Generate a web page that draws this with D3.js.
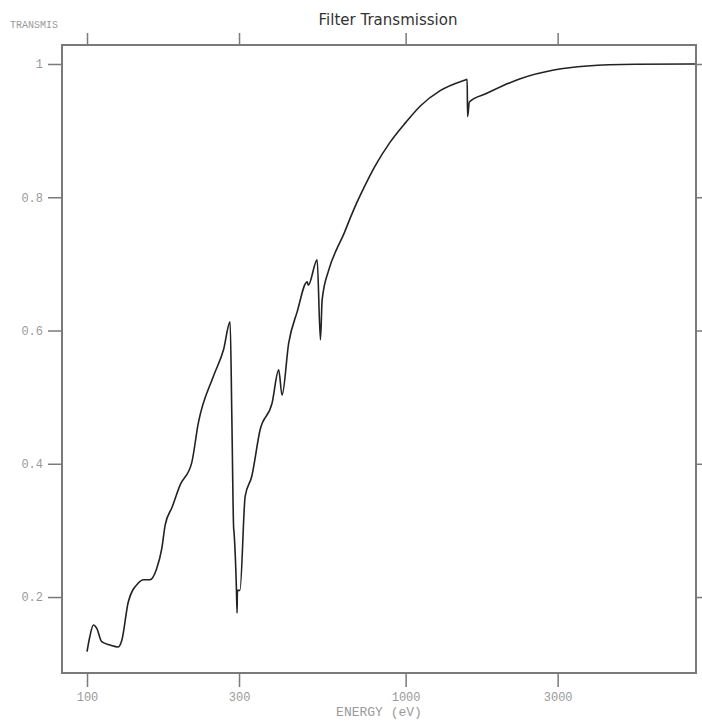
<!DOCTYPE html>
<html>
<head>
<meta charset="utf-8">
<script src="https://cdn.jsdelivr.net/npm/d3@7/dist/d3.min.js"></script>
<style>
html,body{margin:0;padding:0;background:#fff;}
svg{display:block;}
</style>
</head>
<body>
<svg id="chart" width="702" height="722"></svg>
<script>
// ---- data ----
const energy = [100, 102, 104.7, 107.3, 111.2, 118.1, 125.4, 128.6, 134.8, 144.9, 150.2, 157.6,
  165.5, 171.7, 175.9, 185, 195.9, 213, 223.5, 249.1, 268.2, 281.3, 284.8, 288.4, 289.5,
  294.5, 295.8, 296.5, 302, 313.6, 328.8, 349.4, 380.9, 399.6, 409.4, 429.5, 456.6, 490.8,
  495, 527.6, 540.3, 547, 573.9, 606.2, 640, 669, 700, 729, 800, 892, 1000, 1112, 1284, 1538, 1560,
  1565, 1585, 1799, 2290, 2917, 3714, 5285, 8100];
const transmission = [0.118, 0.14, 0.158, 0.153, 0.133, 0.128, 0.125, 0.135, 0.193, 0.221, 0.226, 0.226,
  0.243, 0.273, 0.308, 0.335, 0.368, 0.401, 0.461, 0.531, 0.571, 0.613, 0.471, 0.306, 0.296,
  0.21, 0.176, 0.21, 0.21, 0.351, 0.381, 0.451, 0.491, 0.541, 0.503, 0.581, 0.628, 0.673,
  0.668, 0.706, 0.586, 0.646, 0.691, 0.721, 0.745, 0.768, 0.79, 0.808, 0.846, 0.882, 0.912, 0.937, 0.96, 0.976, 0.977,
  0.921, 0.943, 0.956, 0.978, 0.991, 0.997, 0.9995, 1.0];
const xTicks = [100, 300, 1000, 3000];
const yTicks = [0.2, 0.4, 0.6, 0.8, 1];
const title = "Filter Transmission";
const xLabel = "ENERGY (eV)";
const yLabel = "TRANSMIS";

// ---- layout ----
const svg = d3.select("#chart");
const L = 62, R = 696, T = 45, B = 673;
const x = d3.scaleLog().domain([83.46, 8155]).range([L, R]);
const y = d3.scaleLinear().domain([0.086, 1.0285]).range([B, T]);

const mono = "'Liberation Mono', 'DejaVu Sans Mono', monospace";
const labelColor = "#9a9a9a";
const axisColor = "#7a7a7a";

function styleAxis(g, hideText) {
  g.select(".domain").remove();
  g.selectAll(".tick line").attr("stroke", axisColor).attr("stroke-width", 1.5);
  g.selectAll(".tick text").attr("fill", labelColor).style("font-family", mono).style("font-size", "12px");
  if (hideText) g.selectAll(".tick text").remove();
}

svg.append("g").attr("transform", `translate(0,${B})`)
  .call(d3.axisBottom(x).tickValues(xTicks).tickFormat(d3.format("d")).tickSize(14).tickPadding(5))
  .call(g => styleAxis(g, false));
svg.append("g").attr("transform", `translate(0,${T})`)
  .call(d3.axisTop(x).tickValues(xTicks).tickSize(12))
  .call(g => styleAxis(g, true));
svg.append("g").attr("transform", `translate(${L},0)`)
  .call(d3.axisLeft(y).tickValues(yTicks).tickFormat(d => d === 1 ? "1" : d3.format(".1f")(d)).tickSize(14).tickPadding(5))
  .call(g => styleAxis(g, false));
svg.append("g").attr("transform", `translate(${R},0)`)
  .call(d3.axisRight(y).tickValues(yTicks).tickSize(12))
  .call(g => styleAxis(g, true));

// frame
svg.append("rect").attr("x", L).attr("y", T).attr("width", R - L).attr("height", B - T)
  .attr("fill", "none").attr("stroke", axisColor).attr("stroke-width", 2);

// curve
const pts = energy.map((e, i) => [e, transmission[i]]);
svg.append("path").datum(pts)
  .attr("fill", "none").attr("stroke", "#222").attr("stroke-width", 1.6)
  .attr("stroke-linejoin", "round")
  .attr("d", d3.line().curve(d3.curveMonotoneX).x(d => x(d[0])).y(d => y(d[1])));

// texts
svg.append("text").attr("x", 388).attr("y", 25).attr("text-anchor", "middle")
  .style("font-family", "'DejaVu Sans', sans-serif").style("font-size", "15px").attr("fill", "#333")
  .text(title);
svg.append("text").attr("x", 10).attr("y", 28)
  .style("font-family", mono).style("font-size", "10px").attr("fill", labelColor)
  .text(yLabel);
svg.append("text").attr("x", (L + R) / 2).attr("y", 716).attr("text-anchor", "middle")
  .style("font-family", mono).style("font-size", "13px").attr("fill", labelColor)
  .text(xLabel);
</script>
</body>
</html>
